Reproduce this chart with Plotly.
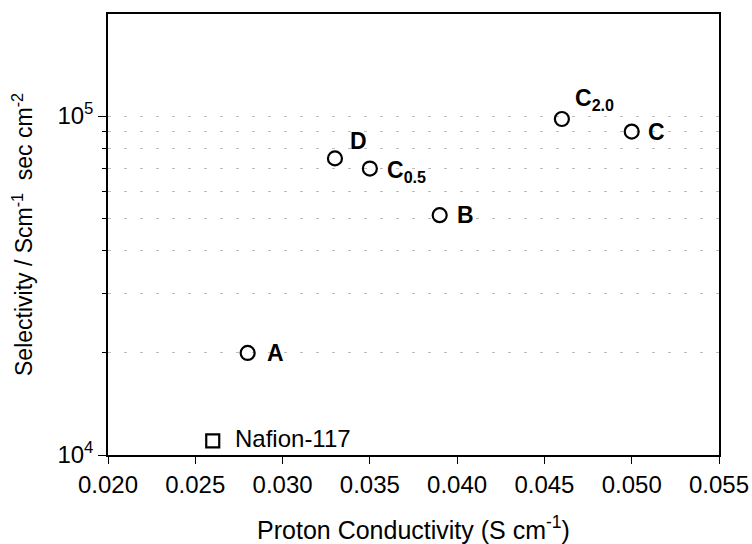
import plotly.graph_objects as go
import math

# Data
sample_names = ["A", "B", "C", "D", "C<sub>0.5</sub>", "C<sub>2.0</sub>"]
conductivity = [0.028, 0.039, 0.050, 0.033, 0.035, 0.046]
selectivity = [2.0e4, 5.1e4, 9.0e4, 7.5e4, 7.0e4, 9.8e4]

nafion_name = "Nafion-117"
nafion_conductivity = [0.026]
nafion_selectivity = [1.1e4]

x_ticks = [0.020, 0.025, 0.030, 0.035, 0.040, 0.045, 0.050, 0.055]
x_tick_labels = ["0.020", "0.025", "0.030", "0.035", "0.040", "0.045", "0.050", "0.055"]
y_major = [1e4, 1e5]
y_major_labels = ["10<sup>4</sup>", "10<sup>5</sup>"]
y_minor = [2e4, 3e4, 4e4, 5e4, 6e4, 7e4, 8e4, 9e4]

# label placement (pixel shifts)
label_shift = {
    "A": (17, 0), "B": (15, 0), "C": (14, 0), "D": (13, 17),
    "C<sub>0.5</sub>": (15, -3), "C<sub>2.0</sub>": (11, 20),
}

FONT = "Liberation Sans, Arial, sans-serif"
FS = 24

fig = go.Figure()
fig.add_trace(go.Scatter(
    x=conductivity, y=selectivity, mode="markers",
    marker=dict(symbol="circle-open", size=14, color="black", line=dict(width=2.2, color="black")),
    showlegend=False, hoverinfo="skip",
))
fig.add_trace(go.Scatter(
    x=nafion_conductivity, y=nafion_selectivity, mode="markers",
    marker=dict(symbol="square-open", size=13, color="black", line=dict(width=2.2, color="black")),
    showlegend=False, hoverinfo="skip",
))

for name, xv, yv in zip(sample_names, conductivity, selectivity):
    dx, dy = label_shift[name]
    fig.add_annotation(
        x=xv, y=math.log10(yv), text="<b>" + name + "</b>", showarrow=False,
        xanchor="left", yanchor="middle", xshift=dx, yshift=dy,
        font=dict(family=FONT, size=23, color="black"),
    )
fig.add_annotation(
    x=nafion_conductivity[0], y=math.log10(nafion_selectivity[0]), text=nafion_name,
    showarrow=False, xanchor="left", yanchor="middle", xshift=20, yshift=2,
    font=dict(family=FONT, size=24, color="black"),
)

fig.update_layout(
    width=752, height=544,
    margin=dict(l=108, r=33, t=14, b=89),
    plot_bgcolor="white", paper_bgcolor="white",
    font=dict(family=FONT, size=FS, color="black"),
    xaxis=dict(
        range=[0.020, 0.055], tickvals=x_ticks, ticktext=x_tick_labels,
        automargin=False,
        showgrid=False, zeroline=False,
        ticks="outside", ticklen=7, tickwidth=1.2, tickcolor="black",
        showline=True, linecolor="black", linewidth=1.5, mirror=True,
        title=dict(text="Proton Conductivity (S cm<sup>-1</sup>)", standoff=28,
                   font=dict(family=FONT, size=25)),
        tickfont=dict(family=FONT, size=FS),
    ),
    yaxis=dict(
        type="log", range=[4, math.log10(2e5)],
        tickvals=y_major, ticktext=y_major_labels,
        automargin=False,
        showgrid=True, gridcolor="#bdbdbd", gridwidth=1, griddash="3px,13px",
        zeroline=False,
        ticks="outside", ticklen=8, tickwidth=1.2, tickcolor="black",
        showline=True, linecolor="black", linewidth=1.5, mirror=True,
        minor=dict(tickvals=y_minor, ticks="outside", ticklen=4, tickwidth=1.2,
                   tickcolor="black", showgrid=True, gridcolor="#bdbdbd",
                   gridwidth=1, griddash="3px,13px"),
        title=dict(text="Selectivity / Scm<sup>-1</sup>  sec cm<sup>-2</sup>", standoff=18,
                   font=dict(family=FONT, size=23)),
        tickfont=dict(family=FONT, size=FS),
    ),
)

fig.write_html("out.html")
